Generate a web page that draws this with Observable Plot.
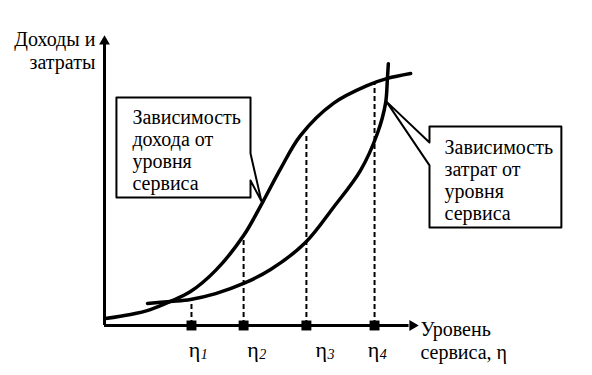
<!DOCTYPE html>
<html><head><meta charset="utf-8">
<script src="https://cdn.jsdelivr.net/npm/d3@7"></script>
<script src="https://cdn.jsdelivr.net/npm/@observablehq/plot@0.6"></script>
<style>body{margin:0;background:#fff}</style>
</head><body><div id="chart"></div>
<script>
// Revenue vs service level (S-curve)
const revenueX = [0.03, 0.83, 1.46, 2.10, 2.74, 3.54, 4.43, 5.03, 5.61, 6.24, 7.29, 8.38, 9.01, 9.75];
const revenueY = [0.24, 0.38, 0.55, 0.83, 1.17, 1.90, 3.10, 4.24, 5.41, 6.55, 7.66, 8.28, 8.52, 8.69];
// Cost vs service level (convex)
const costX = [1.37, 2.10, 2.74, 3.54, 4.43, 5.29, 6.40, 7.29, 8.15, 8.69, 8.95, 9.01, 9.04];
const costY = [0.76, 0.83, 0.90, 1.10, 1.45, 1.93, 2.86, 4.07, 5.34, 6.62, 7.66, 8.52, 9.03];
// Service levels η1..η4
const etaX = [2.77, 4.43, 6.43, 8.60];
const etaTop = [0.86, 3.10, 6.62, 8.34];
const etaLabelX = [2.68, 4.55, 6.72, 8.38];
const etaSub = ["1", "2", "3", "4"];
// Callouts
const leftCalloutX = [0.38, 4.65, 4.65, 5.0, 4.65, 4.65, 0.38, 0.38];
const leftCalloutY = [7.86, 7.86, 5.93, 4.28, 5.0, 4.41, 4.41, 7.86];
const rightCalloutX = [10.35, 14.55, 14.55, 10.35, 10.35, 8.98, 10.35, 10.35];
const rightCalloutY = [6.86, 6.86, 3.38, 3.38, 5.52, 7.72, 6.31, 6.86];
// Text lines
const leftLines = ["Зависимость", "дохода от", "уровня", "сервиса"];
const leftLineY = [7.17, 6.41, 5.66, 4.90];
const rightLines = ["Зависимость", "затрат от", "уровня", "сервиса"];
const rightLineY = [6.14, 5.38, 4.62, 3.86];
const yLabelLines = ["Доходы и", "затраты"];
const yLabelLineY = [9.86, 9.07];
const xLabelLines = ["Уровень", "сервиса, η"];
const xLabelLineY = [-0.14, -0.93];

const zip = (xs, ys) => xs.map((x, i) => ({x, y: ys[i]}));
const revenue = zip(revenueX, revenueY);
const cost = zip(costX, costY);
const etas = etaX.map((x, i) => ({x, top: etaTop[i], lx: etaLabelX[i], sub: etaSub[i]}));
const leftCallout = zip(leftCalloutX, leftCalloutY);
const rightCallout = zip(rightCalloutX, rightCalloutY);
const lines = (texts, ys) => texts.map((t, i) => ({t, y: ys[i]}));

const chart = Plot.plot({
  width: 592, height: 375,
  marginLeft: 104, marginRight: 174, marginTop: 35, marginBottom: 50,
  x: {domain: [0, 10], axis: null},
  y: {domain: [0, 10], axis: null},
  marks: [
    Plot.ruleX(etas, {x: "x", y1: () => 0, y2: "top", stroke: "#000", strokeWidth: 2, strokeDasharray: "5,3"}),
    Plot.ruleX([0], {y1: () => 0, y2: () => 9.7, stroke: "#000", strokeWidth: 3}),
    Plot.ruleY([0], {x1: () => 0, x2: () => 9.7, stroke: "#000", strokeWidth: 3}),
    Plot.dot([0], {x: () => 0, y: () => 10, dy: 6, symbol: "triangle", r: 4, fill: "#000", stroke: "none"}),
    Plot.dot([0], {x: () => 10, y: () => 0, dx: -6, symbol: "triangle", rotate: 90, r: 4, fill: "#000", stroke: "none"}),
    Plot.line(revenue, {x: "x", y: "y", curve: "catmull-rom", stroke: "#000", strokeWidth: 3.5}),
    Plot.line(cost, {x: "x", y: "y", curve: "catmull-rom", stroke: "#000", strokeWidth: 3.5}),
    Plot.dot(etas, {x: "x", y: () => 0, symbol: "square", r: 5.6, fill: "#000", stroke: "none"}),
    Plot.line(leftCallout, {x: "x", y: "y", stroke: "#000", strokeWidth: 2, fill: "white"}),
    Plot.line(rightCallout, {x: "x", y: "y", stroke: "#000", strokeWidth: 2, fill: "white"}),
    Plot.text(lines(leftLines, leftLineY), {x: () => 0.89, y: "y", text: "t", textAnchor: "start", fontSize: 20, fontFamily: "Liberation Serif"}),
    Plot.text(lines(rightLines, rightLineY), {x: () => 10.83, y: "y", text: "t", textAnchor: "start", fontSize: 20, fontFamily: "Liberation Serif"}),
    Plot.text(lines(yLabelLines, yLabelLineY), {x: () => -0.29, y: "y", text: "t", textAnchor: "end", fontSize: 20, fontFamily: "Liberation Serif"}),
    Plot.text(lines(xLabelLines, xLabelLineY), {x: () => 10.06, y: "y", text: "t", textAnchor: "start", fontSize: 20, fontFamily: "Liberation Serif"}),
    Plot.text(etas, {x: "lx", y: () => -0.83, text: () => "η", textAnchor: "start", fontSize: 22, fontFamily: "Liberation Serif"}),
    Plot.text(etas, {x: "lx", y: () => -0.83, text: "sub", dx: 12, dy: 5, textAnchor: "start", fontSize: 14, fontStyle: "italic", fontFamily: "Liberation Serif"})
  ]
});
document.getElementById("chart").appendChild(chart);
</script>
</body></html>
